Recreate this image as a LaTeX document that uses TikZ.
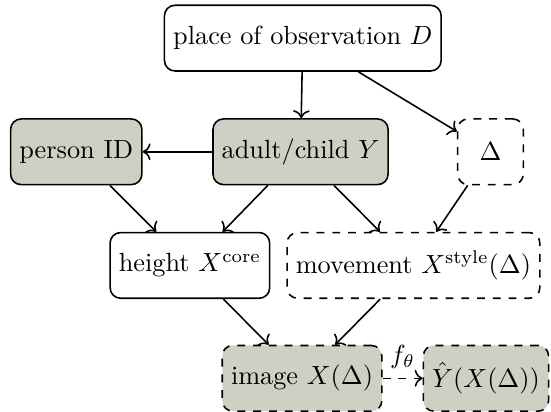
\documentclass[tikz,border=0pt]{standalone}
\usepackage{amsmath}
\usepackage{tikz}
\usetikzlibrary{arrows.meta}
\definecolor{obsgray}{RGB}{207,207,196}

\begin{document}
\begin{tikzpicture}[semithick,>={To[length=3pt,width=6.4pt]},
		var/.style={draw,rounded corners=4pt,minimum height=25pt,minimum width=25pt},
		obs/.style={var,fill=obsgray},
		hid/.style={var,dashed}]
		\useasboundingbox (0,0.51) rectangle (7.37,-5.0);
		\node[var] (place) at (4.05,0) {place of observation $D$};
		\node[obs] (person) at (1.02,-1.52) {person ID};
		\node[obs] (adult) at (4.02,-1.52) {adult/child $Y$};
		\node[hid] (delta) at (6.56,-1.52) {$\Delta$};
		\node[var] (height) at (2.54,-3.04) {height $X^{\text{core}}$};
		\node[hid] (movement) at (5.53,-3.04) {movement $X^{\text{style}}(\Delta)$};
		\node[obs,dashed] (image) at (4.04,-4.55) {image $X(\Delta)$};
		\node[obs,dashed] (yhat) at (6.50,-4.55) {$\hat{Y}(X(\Delta))$};
		\foreach \src/\dst in {place/adult,place/delta,adult/person,person/height,adult/height,adult/movement,delta/movement,height/image,movement/image}
			\draw [->] (\src) -- (\dst);
		\draw [->,dashed] (image) -- node[above] {$f_\theta$} (yhat);
\end{tikzpicture}
\end{document}
